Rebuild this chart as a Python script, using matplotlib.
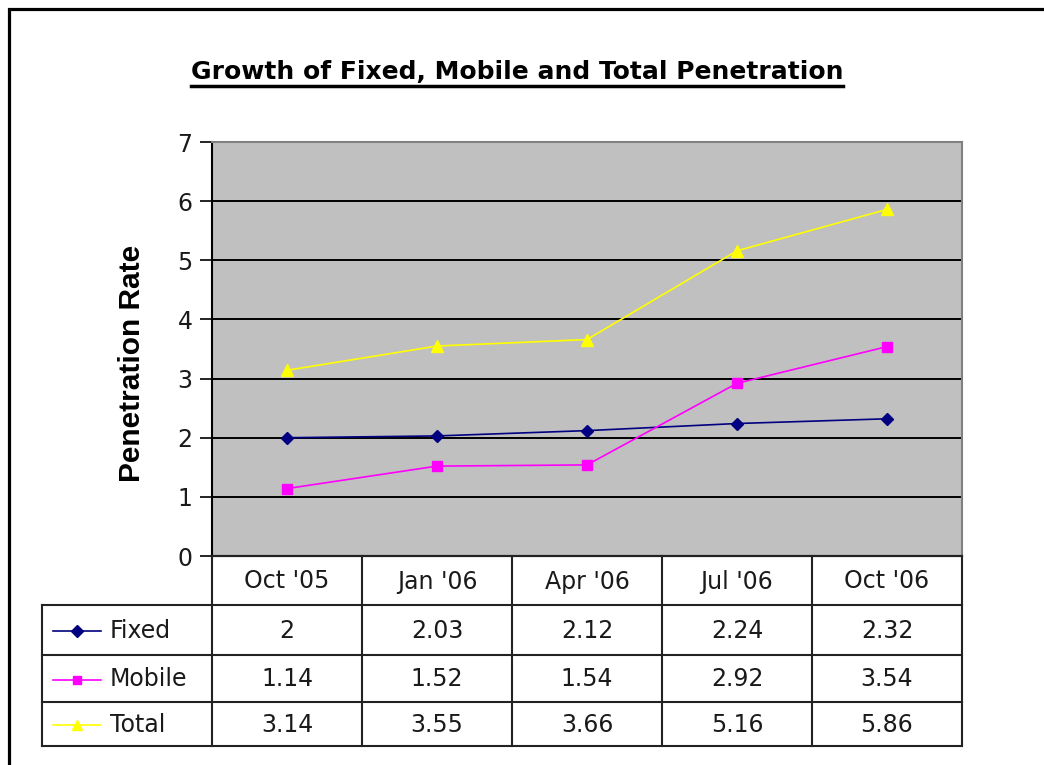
import matplotlib
matplotlib.use('Agg')
import matplotlib.pyplot as plt
from matplotlib.lines import Line2D
from matplotlib.patches import Rectangle

plt.rcParams['font.family'] = ['DejaVu Sans']

# ── data ──
periods = ["Oct '05", "Jan '06", "Apr '06", "Jul '06", "Oct '06"]
fixed = [2, 2.03, 2.12, 2.24, 2.32]
mobile = [1.14, 1.52, 1.54, 2.92, 3.54]
total = [3.14, 3.55, 3.66, 5.16, 5.86]
fixed_txt = ['2', '2.03', '2.12', '2.24', '2.32']
mobile_txt = ['1.14', '1.52', '1.54', '2.92', '3.54']
total_txt = ['3.14', '3.55', '3.66', '5.16', '5.86']
y_ticks = [0, 1, 2, 3, 4, 5, 6, 7]

series = [
    ('Fixed', fixed, fixed_txt, '#000080', 'D', 6.5),
    ('Mobile', mobile, mobile_txt, '#FF00FF', 's', 6.5),
    ('Total', total, total_txt, '#FFFF00', '^', 8),
]

W, H = 1044, 765
fig = plt.figure(figsize=(W / 100, H / 100), dpi=100)

def fx(px):
    return px / W

def fy(py):
    return 1 - py / H

TXT = '#1a1a1a'

# outer frame (only left/top visible, picture is cropped)
fig.add_artist(Rectangle((fx(9), -0.1), 1.2, fy(9) + 0.1, transform=fig.transFigure,
                         fill=False, edgecolor='black', linewidth=2.3, clip_on=False))

# ── main plot ──
L, R, T, B = 212, 962, 142, 556
ax = fig.add_axes([fx(L), fy(B), fx(R) - fx(L), fy(T) - fy(B)])
ax.set_facecolor('#C0C0C0')
x = list(range(len(periods)))
for name, vals, _, col, mk, ms in series:
    ax.plot(x, vals, color=col, marker=mk, markersize=ms, linewidth=1.2,
            markeredgecolor=col, zorder=3)
ax.set_xlim(-0.5, len(periods) - 0.5)
ax.set_ylim(0, 7)
ax.set_yticks(y_ticks)
ax.set_yticklabels([str(v) for v in y_ticks], fontsize=17, color=TXT)
ax.set_xticks([])
ax.tick_params(axis='y', length=9, width=1.2, pad=5, direction='out')
ax.grid(axis='y', color='black', linewidth=1.4)
ax.set_axisbelow(True)
for side in ['top', 'right']:
    ax.spines[side].set_color('#808080')
for side in ['top', 'right', 'left', 'bottom']:
    ax.spines[side].set_linewidth(1.5)
fig.text(fx(132), fy(363), 'Penetration Rate', rotation=90, ha='center', va='center',
         fontsize=21.5, fontweight='bold', family=['Liberation Sans', 'DejaVu Sans'])

# ── data table ──
TL = 42
row_edges = [556, 605, 655, 702, 746]
lead = (L - TL) / ((R - L) / len(periods))
tax = fig.add_axes([fx(TL), fy(row_edges[-1]), fx(R) - fx(TL), fy(B) - fy(row_edges[-1])])
tax.set_xlim(-0.5 - lead, len(periods) - 0.5)
tax.set_ylim(row_edges[-1], row_edges[0])
tax.axis('off')
lk = dict(color='#222222', linewidth=1.5, clip_on=False)
x0 = -0.5 - lead
# horizontal rules
tax.plot([-0.5, len(periods) - 0.5], [row_edges[0]] * 2, **lk)
for e in row_edges[1:]:
    tax.plot([x0, len(periods) - 0.5], [e, e], **lk)
# vertical rules
for c in range(len(periods) + 1):
    tax.plot([c - 0.5, c - 0.5], [row_edges[0], row_edges[-1]], **lk)
tax.plot([x0, x0], [row_edges[1], row_edges[-1]], **lk)

mid = [(a + b) / 2 + 1 for a, b in zip(row_edges[:-1], row_edges[1:])]
for i, p in enumerate(periods):
    tax.text(i, mid[0], p, ha='center', va='center', fontsize=17, color=TXT)
for r, (name, vals, txt, col, mk, ms) in enumerate(series, start=1):
    tax.plot([x0 + 0.07, x0 + 0.39], [mid[r]] * 2, color=col, linewidth=1.2)
    tax.plot([x0 + 0.23], [mid[r]], color=col, marker=mk, markersize=ms - 0.5,
             markeredgecolor=col)
    tax.text(x0 + 0.45, mid[r], name, ha='left', va='center', fontsize=17, color=TXT)
    for i, t in enumerate(txt):
        tax.text(i, mid[r], t, ha='center', va='center', fontsize=17, color=TXT)

# ── title with underline ──
title = fig.text(fx(517), fy(72), 'Growth of Fixed, Mobile and Total Penetration',
                 ha='center', va='center', fontsize=18, fontweight='bold')
fig.canvas.draw()
bb = title.get_window_extent().transformed(fig.transFigure.inverted())
uy = bb.y0 - 2 / H
fig.add_artist(Line2D([bb.x0, bb.x1], [uy, uy], color='black', linewidth=2.5,
                      transform=fig.transFigure))

fig.savefig('out.png', dpi=100)
